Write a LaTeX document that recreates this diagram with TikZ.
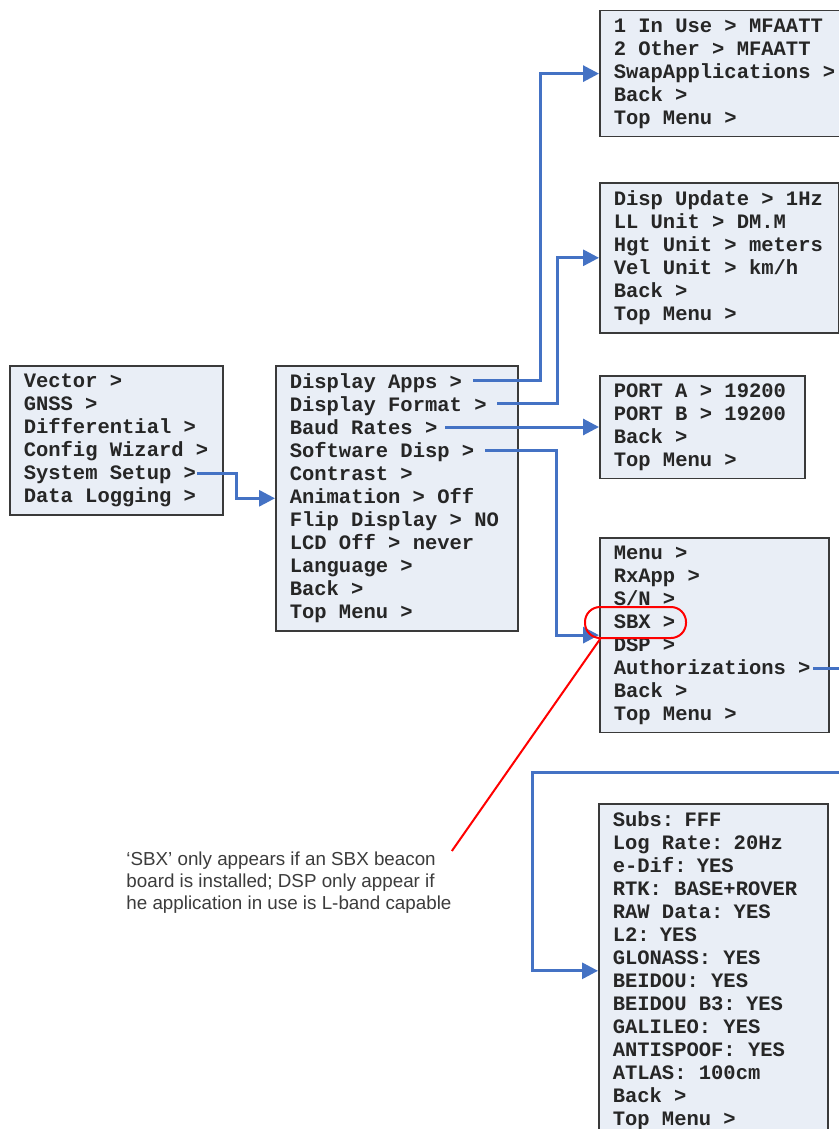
\documentclass[tikz,border=0pt]{standalone}
\usepackage{fontspec}
\usetikzlibrary{arrows.meta}
\newfontfamily\menufont{Liberation Mono}
\newfontfamily\notefont{Liberation Sans}
\definecolor{menufill}{HTML}{E9EEF6}
\definecolor{menuline}{HTML}{3A3A3A}
\definecolor{linkblue}{HTML}{4472C4}
\definecolor{noteink}{HTML}{3C3C3C}

\begin{document}
\begin{tikzpicture}[x=0.5pt, y=-0.5pt, >={Triangle[length=8pt,width=8pt]}]
  \tikzset{
    menubox/.style={draw=menuline, line width=0.75pt, fill=menufill, anchor=north west, align=left,
      inner xsep=7pt, inner ysep=4pt, text=black!85,
      font=\menufont\bfseries\fontsize{10.25pt}{11.5pt}\selectfont,
      execute at begin node={\spaceskip=6.15pt\relax}},
    link/.style={draw=linkblue, line width=1.5pt, ->},
    note/.style={anchor=north west, align=left, inner sep=0pt, text=noteink,
      font=\notefont\fontsize{9.4pt}{11pt}\selectfont}
  }
  \useasboundingbox (0,0) rectangle (839,1129);
  \clip (0,0) rectangle (839,1129);
  \fill[white] (0,0) rectangle (839,1129);

  % menu boxes
  \node[menubox, text width=92.5pt] (main) at (9,365) {Vector >\\GNSS >\\Differential >\\Config Wizard >\\System Setup >\\Data Logging >};
  \node[menubox, text width=107pt] (setup) at (275,365) {Display Apps >\\Display Format >\\Baud Rates >\\Software Disp >\\Contrast >\\Animation > Off\\Flip Display > NO\\LCD Off > never\\Language >\\Back >\\Top Menu >};
  \node[menubox, text width=115pt] (apps) at (599,10) {1 In Use > MFAATT\\2 Other > MFAATT\\SwapApplications >\\Back >\\Top Menu >};
  \node[menubox, text width=105.5pt] (fmt) at (599,182) {Disp Update > 1Hz\\LL Unit > DM.M\\Hgt Unit > meters\\Vel Unit > km/h\\Back >\\Top Menu >};
  \node[menubox, text width=88.5pt] (baud) at (599,375) {PORT A > 19200\\PORT B > 19200\\Back >\\Top Menu >};
  \node[menubox, text width=100.5pt] (soft) at (599,537) {Menu >\\RxApp >\\S/N >\\SBX >\\DSP >\\Authorizations >\\Back >\\Top Menu >};
  \node[menubox, text width=100.5pt] (auth) at (598,803) {Subs: FFF\\Log Rate: 20Hz\\e-Dif: YES\\RTK: BASE+ROVER\\RAW Data: YES\\L2: YES\\GLONASS: YES\\BEIDOU: YES\\BEIDOU B3: YES\\GALILEO: YES\\ANTISPOOF: YES\\ATLAS: 100cm\\Back >\\Top Menu >};

  % where the links leave the menu lines
  \coordinate (sys-out) at (197,473);
  \coordinate (apps-out) at (473,380);
  \coordinate (fmt-out) at (497,403);
  \coordinate (baud-out) at (445,427);
  \coordinate (soft-out) at (485,450);
  \coordinate (auth-out) at (813,668);
  \coordinate (auth-turn) at (532,772);

  \draw[link] (sys-out) -- ++(39,0) |- (setup.west);
  \draw[link] (apps-out) -- ++(67,0) |- (apps.west);
  \draw[link] (fmt-out) -- ++(60,0) |- (fmt.west);
  \draw[link] (baud-out) -- (baud-out -| baud.west);
  \draw[link] (soft-out) -- ++(71,0) |- (soft.west);
  \draw[link] (auth-out) -- ++(40,0) |- (auth-turn) |- (auth.west);

  % SBX remark
  \node[draw=red, line width=1pt, rounded corners=7.5pt, minimum width=50.5pt, minimum height=15.5pt, inner sep=0pt] (sbxmark) at (635.5,622.5) {};
  \node[note] (sbxnote) at (126,851) {‘SBX’ only appears if an SBX beacon\\board is installed; DSP only appear if\\he application in use is L-band capable};
  \draw[red, line width=1pt] (sbxmark.205) -- (sbxnote.north east);
\end{tikzpicture}
\end{document}
